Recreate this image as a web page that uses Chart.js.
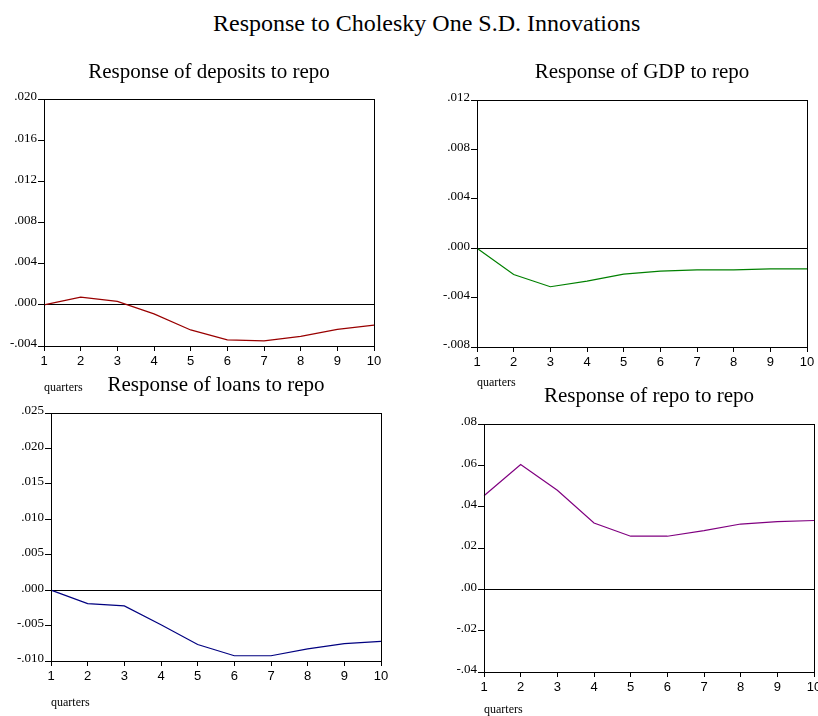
<!DOCTYPE html>
<html>
<head>
<meta charset="utf-8">
<script src="https://cdn.jsdelivr.net/npm/chart.js@4.4.0/dist/chart.umd.min.js"></script>
<style>
  html, body { margin: 0; padding: 0; background: #fff; overflow: hidden; }
  body { width: 818px; height: 716px; position: relative; }
  #main-title {
    position: absolute; left: 213px; top: 9px; white-space: nowrap;
    font-family: "Liberation Serif", serif; font-size: 24px; line-height: 28px; color: #000;
  }
  .panel { position: absolute; }
</style>
</head>
<body>
<div id="main-title">Response to Cholesky One S.D. Innovations</div>
<div class="panel" style="left:0px;top:60px;width:390px;height:335px"><canvas id="c1"></canvas></div>
<div class="panel" style="left:410px;top:60px;width:408px;height:330px"><canvas id="c2"></canvas></div>
<div class="panel" style="left:0px;top:373px;width:400px;height:337px"><canvas id="c3"></canvas></div>
<div class="panel" style="left:410px;top:384px;width:408px;height:333px"><canvas id="c4"></canvas></div>
<script>
const quarters = ["1", "2", "3", "4", "5", "6", "7", "8", "9", "10"];

// impulse responses
const deposits = [0.0000, 0.00075, 0.00033, -0.00088, -0.00244, -0.00341, -0.00351, -0.00306, -0.00238, -0.00198];
const gdp = [0.0000, -0.00213, -0.00312, -0.00267, -0.00210, -0.00186, -0.00175, -0.00175, -0.00167, -0.00167];
const loans = [0.0000, -0.00191, -0.00223, -0.00489, -0.00768, -0.00926, -0.00926, -0.00829, -0.00754, -0.00722];
const repo = [0.0453, 0.0604, 0.0479, 0.0321, 0.0257, 0.0257, 0.0284, 0.0316, 0.0328, 0.0333];

// y tick labels, bottom to top
const depositTicks = ["-.004", ".000", ".004", ".008", ".012", ".016", ".020"];
const gdpTicks = ["-.008", "-.004", ".000", ".004", ".008", ".012"];
const loanTicks = ["-.010", "-.005", ".000", ".005", ".010", ".015", ".020", ".025"];
const repoTicks = ["-.04", "-.02", ".00", ".02", ".04", ".06", ".08"];

const serif = "'Liberation Serif', 'Times New Roman', serif";
const sans = "'Liberation Sans', Arial, sans-serif";

// box around the plot area
const frame = {
    id: "frame",
    afterDraw(chart) {
        const a = chart.chartArea;
        const ctx = chart.ctx;
        ctx.save();
        ctx.strokeStyle = "#000";
        ctx.lineWidth = 1;
        ctx.strokeRect(Math.round(a.left) + 0.5, Math.round(a.top) + 0.5,
            Math.round(a.right - a.left), Math.round(a.bottom - a.top));
        ctx.restore();
    }
};

function makeChart(id, opts) {
    const ctx = document.getElementById(id).getContext("2d");
    return new Chart(ctx, {
        type: "line",
        data: {
            labels: quarters,
            datasets: [{
                data: opts.data,
                borderColor: opts.color,
                borderWidth: 1.2,
                pointRadius: 0,
                tension: 0,
                fill: false
            }]
        },
        options: {
            responsive: true,
            maintainAspectRatio: false,
            animation: false,
            events: [],
            layout: { padding: { left: 0, right: opts.padRight, top: 0, bottom: 0 } },
            plugins: {
                legend: { display: false },
                tooltip: { enabled: false },
                title: {
                    display: true,
                    fullSize: false, // centre over the plot, not the canvas
                    text: opts.title,
                    color: "#000",
                    font: { family: serif, size: 21, weight: "normal", lineHeight: "24px" },
                    padding: { top: 0, bottom: opts.titleGap }
                }
            },
            scales: {
                x: {
                    offset: false,
                    grid: { drawOnChartArea: false, drawTicks: true, tickLength: 5, tickColor: "#000" },
                    border: { display: true, color: "#000", width: 1 },
                    ticks: { color: "#000", font: { family: sans, size: 13 }, padding: 3, maxRotation: 0, autoSkip: false },
                    title: {
                        display: true,
                        text: "quarters",
                        align: "start",
                        color: "#000",
                        font: { family: serif, size: 12, lineHeight: 1.2 },
                        padding: 0
                    },
                    afterFit(s) {
                        s.height = opts.xHeight;
                        s.paddingLeft = 0;
                        s.paddingRight = 0;
                    }
                },
                y: {
                    min: opts.min,
                    max: opts.max,
                    ticks: {
                        stepSize: opts.step,
                        color: "#000",
                        font: { family: serif, size: 13 },
                        padding: 1,
                        labelOffset: -2,
                        callback: (v, i) => opts.ticks[i]
                    },
                    grid: {
                        drawOnChartArea: true,
                        drawTicks: true,
                        tickLength: 6,
                        tickColor: "#000",
                        color: c => (c.tick && Math.abs(c.tick.value) < 1e-9) ? "#000" : "rgba(0,0,0,0)"
                    },
                    border: { display: true, color: "#000", width: 1 },
                    afterFit(s) {
                        s.width = opts.yWidth;
                        s.paddingTop = 0;
                        s.paddingBottom = 0;
                    }
                }
            }
        },
        plugins: [frame]
    });
}

makeChart("c1", {
    title: "Response of deposits to repo", data: deposits, color: "#990000",
    min: -0.004, max: 0.020, step: 0.004, ticks: depositTicks,
    yWidth: 44, padRight: 16, titleGap: 15, xHeight: 49
});
makeChart("c2", {
    title: "Response of GDP to repo", data: gdp, color: "#008000",
    min: -0.008, max: 0.012, step: 0.004, ticks: gdpTicks,
    yWidth: 67, padRight: 11, titleGap: 16, xHeight: 43
});
makeChart("c3", {
    title: "Response of loans to repo", data: loans, color: "#000080",
    min: -0.010, max: 0.025, step: 0.005, ticks: loanTicks,
    yWidth: 51, padRight: 19, titleGap: 16, xHeight: 49
});
makeChart("c4", {
    title: "Response of repo to repo", data: repo, color: "#800080",
    min: -0.04, max: 0.08, step: 0.02, ticks: repoTicks,
    yWidth: 74, padRight: 4, titleGap: 16, xHeight: 45
});
</script>
</body>
</html>
